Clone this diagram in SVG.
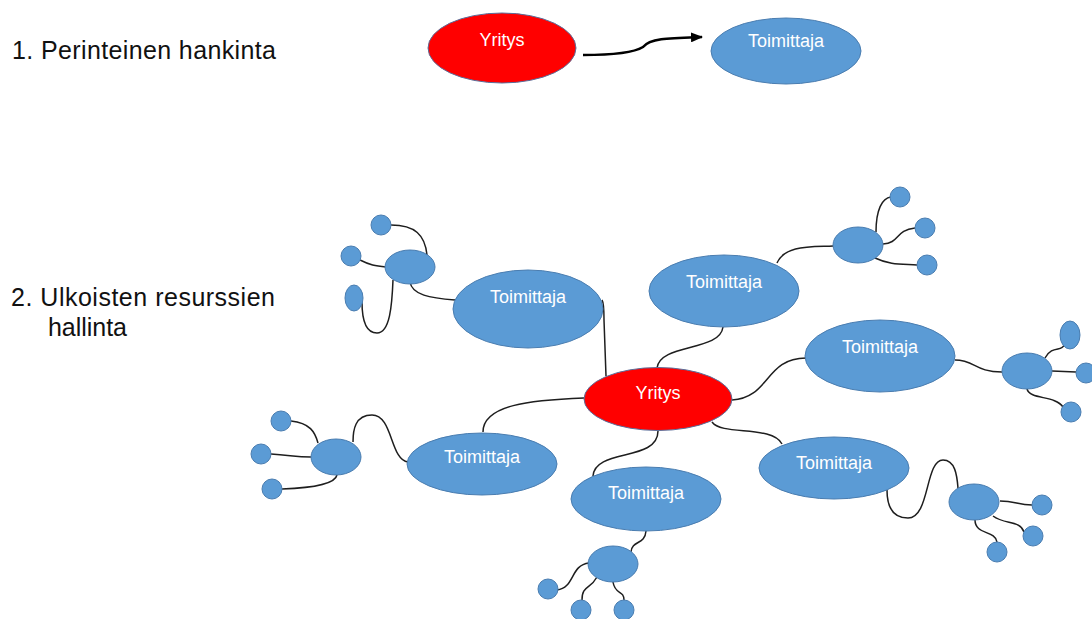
<svg xmlns="http://www.w3.org/2000/svg" width="1092" height="619" viewBox="0 0 1092 619">
  <style>
    .sup { fill: #5B9BD5; stroke: #4A7DB0; stroke-width: 1; }
    .co { fill: #FF0000; stroke: #5A6E9A; stroke-width: 1; }
    .lbl { font-family: "Liberation Sans", Arial, sans-serif; font-size: 18px; fill: #FFFFFF; text-anchor: middle; }
    .head { font-family: "Liberation Sans", Arial, sans-serif; font-size: 25px; fill: #111111; }
    .link { fill: none; stroke: #1E1E1E; stroke-width: 1.5; }
    .arrow { fill: none; stroke: #000000; stroke-width: 2.5; }
  </style>
  <defs>
    <marker id="arrowhead" viewBox="0 0 12 10" refX="11" refY="5" markerWidth="12" markerHeight="10" orient="auto" markerUnits="userSpaceOnUse">
      <path d="M0,0 L12,5 L0,10 z" fill="#000"/>
    </marker>
  </defs>

  <rect width="1092" height="619" fill="#FFFFFF"/>

  <!-- headings -->
  <g id="headings">
    <text class="head" x="12" y="59" textLength="264" lengthAdjust="spacing">1. Perinteinen hankinta</text>
    <text class="head" x="11" y="306" textLength="264" lengthAdjust="spacing">2. Ulkoisten resurssien</text>
    <text class="head" x="48" y="336" textLength="79" lengthAdjust="spacing">hallinta</text>
  </g>

  <!-- connectors -->
  <g id="connectors">
    <!-- traditional procurement arrow -->
    <path class="arrow" d="M583,55 C615,55 635,52 643,47 C650,38 670,38 702,37" marker-end="url(#arrowhead)"/>

    <!-- company to suppliers -->
    <path class="link" d="M602,300 C604,303 604,310 604,320 L606,376"/>
    <path class="link" d="M723,327 C720,352 660,343 657,368"/>
    <path class="link" d="M732,400 C770,398 765,358 806,358"/>
    <path class="link" d="M712,422 C722,436 772,425 782,444"/>
    <path class="link" d="M658,431 C658,462 595,448 593,476"/>
    <path class="link" d="M584,398 C530,400 483,405 483,432"/>

    <!-- top-left cluster -->
    <path class="link" d="M410,282 C412,295 430,298 455,300"/>
    <path class="link" d="M391,225 C415,225 425,235 427,255"/>
    <path class="link" d="M360,260 C370,265 375,266 386,267"/>
    <path class="link" d="M362,302 C362,325 368,333 377,333 C390,333 392,305 393,280"/>

    <!-- top-centre cluster -->
    <path class="link" d="M777,263 C785,245 810,247 833,246"/>
    <path class="link" d="M876,232 C876,210 882,198 891,197"/>
    <path class="link" d="M883,244 C900,243 895,230 915,228"/>
    <path class="link" d="M875,258 C890,265 900,264 917,265"/>

    <!-- right cluster -->
    <path class="link" d="M955,360 C975,360 975,372 1002,372"/>
    <path class="link" d="M1045,358 C1052,345 1062,352 1064,345"/>
    <path class="link" d="M1052,371 L1076,372"/>
    <path class="link" d="M1027,389 C1030,400 1055,395 1063,407"/>

    <!-- bottom-right cluster -->
    <path class="link" d="M887,490 C887,510 895,518 908,518 C930,518 925,460 943,460 C955,460 957,475 958,488"/>
    <path class="link" d="M1000,501 C1015,501 1018,505 1032,505"/>
    <path class="link" d="M993,516 C1005,525 1020,520 1024,532"/>
    <path class="link" d="M975,520 C975,535 995,530 997,542"/>

    <!-- bottom cluster -->
    <path class="link" d="M646,531 C645,545 632,540 631,552"/>
    <path class="link" d="M589,563 C570,565 575,588 557,590"/>
    <path class="link" d="M597,577 C590,590 582,585 582,600"/>
    <path class="link" d="M613,582 C615,595 624,590 624,600"/>

    <!-- left cluster -->
    <path class="link" d="M408,462 C390,460 393,415 372,415 C355,415 353,430 353,442"/>
    <path class="link" d="M291,421 C310,423 315,432 318,443"/>
    <path class="link" d="M271,454 C290,455 295,457 311,457"/>
    <path class="link" d="M282,489 C310,488 335,485 337,475"/>
  </g>

  <!-- 1. traditional procurement -->
  <g id="yritys-1">
    <ellipse class="co" cx="502" cy="48" rx="74" ry="35"/>
    <text class="lbl" x="502" y="46">Yritys</text>
  </g>
  <g id="toimittaja-1">
    <ellipse class="sup" cx="786" cy="51" rx="75" ry="33"/>
    <text class="lbl" x="786" y="47">Toimittaja</text>
  </g>

  <!-- 2. network -->
  <g id="yritys-2">
    <ellipse class="co" cx="658" cy="399" rx="74" ry="31.5"/>
    <text class="lbl" x="658" y="399">Yritys</text>
  </g>
  <g id="toimittaja-nw">
    <ellipse class="sup" cx="528" cy="309" rx="75" ry="39"/>
    <text class="lbl" x="528" y="303">Toimittaja</text>
  </g>
  <g id="toimittaja-n">
    <ellipse class="sup" cx="724" cy="291" rx="75" ry="36"/>
    <text class="lbl" x="724" y="288">Toimittaja</text>
  </g>
  <g id="toimittaja-e">
    <ellipse class="sup" cx="880" cy="356" rx="75" ry="36"/>
    <text class="lbl" x="880" y="353">Toimittaja</text>
  </g>
  <g id="toimittaja-se">
    <ellipse class="sup" cx="834" cy="468" rx="75" ry="31"/>
    <text class="lbl" x="834" y="469">Toimittaja</text>
  </g>
  <g id="toimittaja-s">
    <ellipse class="sup" cx="646" cy="499" rx="75" ry="32"/>
    <text class="lbl" x="646" y="499">Toimittaja</text>
  </g>
  <g id="toimittaja-w">
    <ellipse class="sup" cx="482" cy="464" rx="75" ry="31"/>
    <text class="lbl" x="482" y="463">Toimittaja</text>
  </g>

  <!-- sub-supplier clusters -->
  <g id="cluster-nw">
    <ellipse class="sup" cx="410" cy="267" rx="25" ry="17"/>
    <circle class="sup" cx="381" cy="225" r="10"/>
    <circle class="sup" cx="351" cy="256" r="10"/>
    <ellipse class="sup" cx="354" cy="298" rx="9" ry="13"/>
  </g>
  <g id="cluster-n">
    <ellipse class="sup" cx="858" cy="245" rx="25" ry="18"/>
    <circle class="sup" cx="900" cy="197" r="10"/>
    <circle class="sup" cx="925" cy="228" r="10"/>
    <circle class="sup" cx="927" cy="265" r="10"/>
  </g>
  <g id="cluster-e">
    <ellipse class="sup" cx="1027" cy="371" rx="25" ry="18"/>
    <ellipse class="sup" cx="1070" cy="335" rx="10" ry="14"/>
    <circle class="sup" cx="1086" cy="373" r="10"/>
    <circle class="sup" cx="1071" cy="412" r="10"/>
  </g>
  <g id="cluster-se">
    <ellipse class="sup" cx="974" cy="502" rx="25" ry="18"/>
    <circle class="sup" cx="1042" cy="505" r="10"/>
    <circle class="sup" cx="1033" cy="536" r="10"/>
    <circle class="sup" cx="997" cy="552" r="10"/>
  </g>
  <g id="cluster-s">
    <ellipse class="sup" cx="613" cy="564" rx="25" ry="18"/>
    <circle class="sup" cx="548" cy="589" r="10"/>
    <circle class="sup" cx="581" cy="610" r="10"/>
    <circle class="sup" cx="624" cy="610" r="10"/>
  </g>
  <g id="cluster-w">
    <ellipse class="sup" cx="336" cy="457" rx="25" ry="18"/>
    <circle class="sup" cx="281" cy="421" r="10"/>
    <circle class="sup" cx="261" cy="454" r="10"/>
    <circle class="sup" cx="272" cy="489" r="10"/>
  </g>
</svg>
